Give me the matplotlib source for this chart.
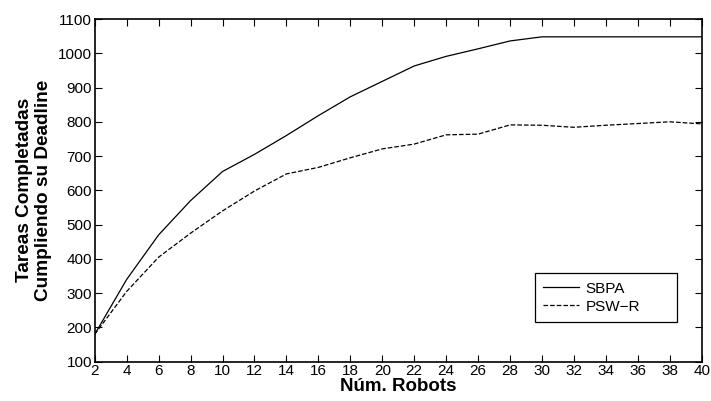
import matplotlib.pyplot as plt
import numpy as np

plt.rcParams['font.family'] = ['Liberation Sans', 'DejaVu Sans']

# Datos
robots = [2, 4, 6, 8, 10, 12, 14, 16, 18, 20, 22, 24, 26, 28, 30, 32, 34, 36, 38, 40]
sbpa = [180, 340, 470, 570, 655, 705, 760, 818, 873, 918, 963, 991, 1013, 1036, 1048,
        1048, 1048, 1048, 1048, 1048]
psw_r = [180, 305, 405, 475, 540, 598, 648, 667, 695, 721, 735, 762, 764, 791, 790,
         784, 790, 795, 800, 794]

fig = plt.figure(figsize=(7.11, 4.01), dpi=100)
ax = fig.add_axes([0.1332, 0.098, 0.8538, 0.8546])

ax.plot(robots, sbpa, 'k-', lw=0.9, label='SBPA')
ax.plot(robots, psw_r, 'k--', lw=0.9, label='PSW\u2212R')

ax.set_xlim(2, 40)
ax.set_ylim(100, 1100)
ax.set_xticks(np.arange(2, 41, 2))
ax.set_yticks(np.arange(100, 1101, 100))
ax.tick_params(direction='in', top=True, right=True, labelsize=11, length=5, width=0.8, pad=2)
for s in ax.spines.values():
    s.set_linewidth(1.2)

ax.set_xlabel('Núm. Robots', fontsize=13.5, fontweight='bold', labelpad=0)
ax.set_ylabel('Tareas Completadas\nCumpliendo su Deadline', fontsize=13.7, fontweight='bold',
              labelpad=4, linespacing=1.15)

# leyenda estilo MATLAB: caja mas ancha que el contenido
leg = ax.legend(loc='lower left', bbox_to_anchor=(0.7254, 0.1158, 0.234, 0.14), mode='expand',
                borderaxespad=0, fontsize=11, fancybox=False, edgecolor='black', framealpha=1,
                handlelength=2.3, handletextpad=0.45, borderpad=0.55, labelspacing=0.25)
leg.get_frame().set_linewidth(0.9)

fig.savefig('out.png', dpi=100)
